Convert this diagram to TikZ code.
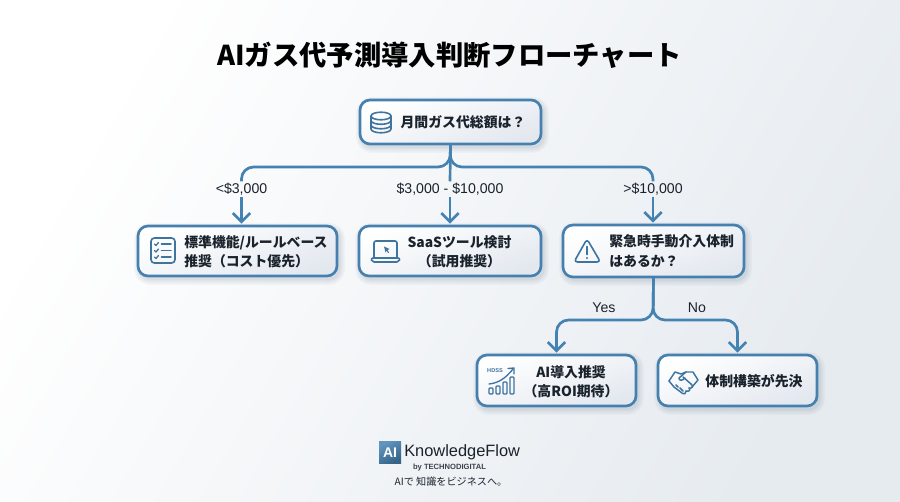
\documentclass[tikz,border=0pt]{standalone}
\usepackage{fontspec}
\usetikzlibrary{arrows.meta,shadows,calc}
\newfontfamily\jpf{Noto Sans CJK JP}
\newfontfamily\latf{Liberation Sans}
\definecolor{edgeblue}{HTML}{4680AF}
\definecolor{linkblue}{HTML}{4482B2}
\definecolor{iconblue}{HTML}{3F749F}
\definecolor{inkdark}{HTML}{1A222C}
\definecolor{softshade}{HTML}{2F4A66}
\definecolor{pagefar}{HTML}{E6EBF0}
\definecolor{boxfar}{HTML}{E3E8EF}
\tikzset{
  x=0.75pt,y=-0.75pt,
  softlayer/.style={general shadow={shadow xshift=1.5pt,shadow yshift=-2.2pt,fill=none,draw=softshade,line width=#1,opacity=.03}},
  flowbox/.style={draw=edgeblue,line width=2pt,rounded corners=7.5pt,inner sep=0pt,outer sep=0pt,
    left color=white,right color=boxfar,shading angle=20,
    softlayer=9pt,softlayer=7pt,softlayer=5pt,softlayer=3pt,softlayer=1.5pt},
  boxtext/.style={font=\jpf\bfseries\fontsize{10.4pt}{14.4pt}\selectfont,text=inkdark,inner sep=0pt,align=#1},
  boxtext/.default=center,
  edgelabel/.style={font=\latf\fontsize{10.6pt}{12pt}\selectfont,text=inkdark,inner sep=1pt},
  link/.style={draw=linkblue,line width=2pt,rounded corners=9pt},
  arrowlink/.style={link,shorten >=1.8pt,-{Straight Barb[length=6.5pt,width=13pt,line width=2pt]}},
  icon/.style={draw=iconblue,line width=1.2pt,line join=round,line cap=round,fill=none},
}
\begin{document}
\begin{tikzpicture}
\useasboundingbox (0,0) rectangle (900,502);
\shade[left color=white,right color=pagefar,shading angle=60] (0,0) rectangle (900,502);

% title
\node[font=\jpf\bfseries\fontsize{20.5pt}{24pt}\selectfont,text=black,inner sep=0pt] (title) at (449.5,55) {AIガス代予測導入判断フローチャート};

% boxes
\node[flowbox,minimum width=135.75pt,minimum height=33pt] (top) at (450.5,122) {};
\node[flowbox,minimum width=149.25pt,minimum height=37.5pt] (std) at (237.5,251) {};
\node[flowbox,minimum width=136.5pt,minimum height=37.5pt] (saas) at (450,251) {};
\node[flowbox,minimum width=135.75pt,minimum height=39pt] (urgent) at (653.5,251) {};
\node[flowbox,minimum width=119.25pt,minimum height=38.25pt] (rec) at (556.5,380.5) {};
\node[flowbox,minimum width=119.25pt,minimum height=38.25pt] (first) at (737.5,380.5) {};

% box texts
\node[boxtext] (toptext) at (463,122) {月間ガス代総額は？};
\node[boxtext=left,anchor=west] (stdtext) at (184,251.5) {標準機能/ルールベース\\推奨（コスト優先）};
\node[boxtext] (saastext) at (459.5,251.5) {SaaSツール検討\\（試用推奨）};
\node[boxtext=left,anchor=west] (urgenttext) at (609,251) {緊急時手動介入体制\\はあるか？};
\node[boxtext] (rectext) at (571,381.5) {AI導入推奨\\（高ROI期待）};
\node[boxtext] (firsttext) at (754,381) {体制構築が先決};

% edge labels
\node[edgelabel] (lowlab) at (241.5,189) {<\$3,000};
\node[edgelabel] (midlab) at (450,189) {\$3,000 - \$10,000};
\node[edgelabel] (highlab) at (653,189) {>\$10,000};
\node[edgelabel] (yeslab) at (604,308) {Yes};
\node[edgelabel] (nolab) at (697,308) {No};

% connectors
\coordinate (split) at (450,167);
\coordinate (forkb) at (653,320);
\draw[link] (top.south) -- (split) -| (lowlab.north);
\draw[link] (top.south) -- (split) -| (highlab.north);
\draw[link] (top.south) -- (midlab.north);
\draw[arrowlink] (lowlab.south) -- (lowlab.south |- std.north);
\draw[arrowlink] (midlab.south) -- (saas.north);
\draw[arrowlink] (highlab.south) -- (highlab.south |- urgent.north);
\draw[arrowlink] (urgent.south) -- (forkb) -| (rec.north);
\draw[arrowlink] (urgent.south) -- (forkb) -| (first.north);

% database icon
\begin{scope}[icon]
  \draw (371,116) arc[start angle=180,end angle=-180,x radius=10,y radius=3.8];
  \draw (371,116) -- (371,129) arc[start angle=180,end angle=0,x radius=10,y radius=3.8] -- (391,116);
  \draw (371,120.5) arc[start angle=180,end angle=0,x radius=10,y radius=3.8];
  \draw (371,125) arc[start angle=180,end angle=0,x radius=10,y radius=3.8];
\end{scope}
% checklist icon
\begin{scope}[icon]
  \draw[rounded corners=2.5pt] (151,238) rectangle (175,263);
  \foreach \yy in {244,250.5,257}{
    \draw[line width=1pt] (154.5,\yy) -- (156,\yy+1.5) -- (158.5,\yy-1.5);
    \draw (161.5,\yy) -- (171,\yy);
  }
\end{scope}
% laptop icon
\begin{scope}[icon]
  \draw[rounded corners=1.5pt] (374,258) -- (374,241) -- (397,241) -- (397,258);
  \draw[rounded corners=1.5pt] (371,258) -- (400,258) -- (399,262) -- (372,262) -- cycle;
  \fill[iconblue,draw=none] (384,246.5) -- (389.5,249) -- (387.5,250) -- (389,252.5) -- (388,253) -- (386.5,250.5) -- (385.5,252.5) -- cycle;
\end{scope}
% warning icon
\begin{scope}[icon]
  \draw[rounded corners=2.5pt] (587,239) -- (600.5,262) -- (574,262) -- cycle;
  \draw (587,246.5) -- (587,254.5);
  \fill[iconblue,draw=none] (587,258) circle[radius=1.1];
\end{scope}
% growth chart icon
\begin{scope}[icon]
  \node[font=\latf\bfseries\fontsize{4.2pt}{5pt}\selectfont,text=iconblue,inner sep=0pt] (hdss) at (495,371) {HDSS};
  \draw[line width=1pt] (489,384) .. controls (498,383) and (505,379) .. (513,369);
  \draw[line width=1pt] (508,368.5) -- (514,368) -- (514,374);
  \draw[line width=1pt,rounded corners=.7pt] (489,388) rectangle (493,394);
  \draw[line width=1pt,rounded corners=.7pt] (496,386) rectangle (500,394);
  \draw[line width=1pt,rounded corners=.7pt] (503,382) rectangle (507,394);
  \draw[line width=1pt,rounded corners=.7pt] (510,377) rectangle (514,394);
\end{scope}
% handshake icon
\begin{scope}[icon,line width=1.1pt]
  \draw (669,381) -- (675,372) -- (681,374) -- (686,372) -- (693,372) -- (698,380) -- (692,387);
  \draw (669,381) -- (674,387) -- (682,393) .. controls (684,395) and (687,393) .. (686,391);
  \draw (686,391) .. controls (689,392) and (691,390) .. (689,388);
  \draw (689,388) .. controls (692,389) and (694,386) .. (691,384) -- (683,377);
  \draw (686,372) -- (679,378) .. controls (679,381) and (682,381) .. (685,378);
  \draw (676,385) -- (678,387);
  \draw (680,388) -- (683,391);
\end{scope}

% footer
\node[minimum width=16.5pt,minimum height=16pt,inner sep=0pt,left color=linkblue!85!white,right color=iconblue!85!black,shading angle=30,
  font=\latf\bfseries\fontsize{10.5pt}{12pt}\selectfont,text=white] (logo) at (390,452.5) {AI};
\node[font=\latf\fontsize{12.3pt}{16pt}\selectfont,text=inkdark,inner sep=0pt,anchor=west] (brand) at (404,452) {KnowledgeFlow};
\node[font=\latf\bfseries\fontsize{5.7pt}{8pt}\selectfont,text=inkdark!85!white,inner sep=0pt] (byline) at (449.5,468) {by TECHNODIGITAL};
\node[font=\jpf\fontsize{7.6pt}{10pt}\selectfont,text=inkdark,inner sep=0pt] (tagline) at (451,482) {AIで 知識をビジネスへ。};
\end{tikzpicture}
\end{document}
